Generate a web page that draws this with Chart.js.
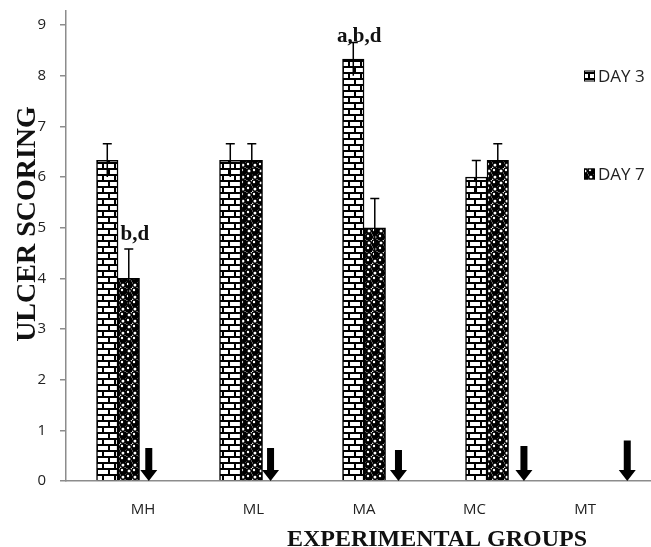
<!DOCTYPE html>
<html lang="en">
<head>
<meta charset="UTF-8">
<title>Ulcer scoring by experimental group</title>
<script src="https://cdn.jsdelivr.net/npm/chart.js"></script>
<style>
  html, body { margin: 0; padding: 0; background: #fff; }
</style>
</head>
<body>
<canvas id="ulcerChart" width="651" height="547"></canvas>
<script>
// values
const groups = ['MH', 'ML', 'MA', 'MC', 'MT'];
const day3 = [6.33, 6.33, 8.33, 6.0, 0];
const day7 = [4.0, 6.33, 5.0, 6.33, 0];
const day3Err = [0.33, 0.33, 0.33, 0.33, 0];
const day7Err = [0.58, 0.33, 0.58, 0.33, 0];
const yTicks = [0, 1, 2, 3, 4, 5, 6, 7, 8, 9];

// significance letters: group index, series (0 = day 3, 1 = day 7), text baseline in score units
const sigGroup = [0, 2];
const sigSeries = [1, 0];
const sigText = ['b,d', 'a,b,d'];
const sigLevel = [4.76, 8.66];

// the "no ulcer" arrows: height in score units, shift from the bar pair in group units
const arrowTop = [0.65, 0.65, 0.61, 0.69, 0.8];
const arrowShift = [0.25, 0.24, 0.28, 0.30, 0.14];

const sans = '"Open Sans", "Liberation Sans", sans-serif';
const serif = '"Liberation Serif", "DejaVu Serif", serif';
const axisGrey = '#8c8c8c';

function brickPattern() {
    const c = document.createElement('canvas');
    c.width = 12; c.height = 12;
    const g = c.getContext('2d');
    g.fillStyle = '#fff';
    g.fillRect(0, 0, 12, 12);
    g.fillStyle = '#000';
    g.fillRect(0, 0, 12, 2);
    g.fillRect(0, 6, 12, 2);
    g.fillRect(0, 2, 2, 4);
    g.fillRect(6, 8, 2, 4);
    return g.createPattern(c, 'repeat');
}

function spherePattern() {
    const c = document.createElement('canvas');
    c.width = 12; c.height = 12;
    const g = c.getContext('2d');
    g.fillStyle = '#fff';
    g.fillRect(0, 0, 12, 12);
    [[3, 3], [9, 9]].forEach(([cx, cy]) => {
        g.fillStyle = '#000';
        g.beginPath(); g.arc(cx, cy, 4.4, 0, Math.PI * 2); g.fill();
        g.fillStyle = '#fff';
        g.beginPath(); g.arc(cx - 1, cy - 1, 1.2, 0, Math.PI * 2); g.fill();
    });
    [[9, 3], [3, 9]].forEach(([cx, cy]) => {
        g.strokeStyle = '#000';
        g.lineWidth = 1.6;
        g.beginPath(); g.arc(cx, cy, 2.3, 0, Math.PI * 2); g.stroke();
    });
    return g.createPattern(c, 'repeat');
}

const brick = brickPattern();
const sphere = spherePattern();

// keep the scales from pushing the plot area in for their own labels
function noLabelPadding(s) {
    s.paddingLeft = 0;
    s.paddingRight = 0;
    s.paddingTop = 0;
    s.paddingBottom = 0;
}

const extras = {
    id: 'extras',
    afterDatasetsDraw(chart) {
        const g = chart.ctx;
        const y = chart.scales.y;
        const xb = chart.scales.xb;
        const vals = [day3, day7];
        const errs = [day3Err, day7Err];

        g.save();
        // error bars
        g.strokeStyle = '#000';
        g.lineWidth = 1.5;
        for (let d = 0; d < 2; d++) {
            chart.getDatasetMeta(d).data.forEach((bar, i) => {
                if (!errs[d][i]) return;
                const top = y.getPixelForValue(vals[d][i] + errs[d][i]);
                const bot = y.getPixelForValue(vals[d][i] - errs[d][i]);
                g.beginPath();
                g.moveTo(bar.x, bot);
                g.lineTo(bar.x, top);
                g.moveTo(bar.x - 4.5, top);
                g.lineTo(bar.x + 4.5, top);
                g.stroke();
            });
        }

        // significance letters
        g.fillStyle = '#111';
        g.font = 'bold 21px ' + serif;
        g.textAlign = 'center';
        g.textBaseline = 'alphabetic';
        sigText.forEach((t, k) => {
            const bar = chart.getDatasetMeta(sigSeries[k]).data[sigGroup[k]];
            g.fillText(t, bar.x + 6, y.getPixelForValue(sigLevel[k]));
        });

        // arrows
        g.fillStyle = '#000';
        groups.forEach((grp, i) => {
            const x = xb.getPixelForValue(i + arrowShift[i]);
            const top = y.getPixelForValue(arrowTop[i]);
            const tip = y.getPixelForValue(0);
            g.beginPath();
            g.moveTo(x - 3.5, top);
            g.lineTo(x + 3.5, top);
            g.lineTo(x + 3.5, tip - 11);
            g.lineTo(x + 8.5, tip - 11);
            g.lineTo(x, tip);
            g.lineTo(x - 8.5, tip - 11);
            g.lineTo(x - 3.5, tip - 11);
            g.closePath();
            g.fill();
        });

        // legend
        const legendY = [76, 174];
        const legendFill = [brick, sphere];
        const names = chart.data.datasets.map(ds => ds.label);
        g.textAlign = 'left';
        g.textBaseline = 'middle';
        g.font = '17px ' + sans;
        names.forEach((n, k) => {
            g.fillStyle = legendFill[k];
            g.fillRect(584, legendY[k] - 5.5, 11, 11);
            g.strokeStyle = '#000';
            g.lineWidth = 1;
            g.strokeRect(584.5, legendY[k] - 5, 10, 10);
            g.fillStyle = '#222';
            g.fillText(n, 598, legendY[k] + 1);
        });

        // axis titles
        g.fillStyle = '#111';
        g.font = 'bold 24px ' + serif;
        g.textAlign = 'center';
        g.textBaseline = 'alphabetic';
        g.fillText('EXPERIMENTAL GROUPS', 437, 546);

        g.translate(35, 224);
        g.rotate(-Math.PI / 2);
        g.font = 'bold 28px ' + serif;
        g.fillText('ULCER SCORING', 0, 0);
        g.restore();
    }
};

// zero-score bars (MT) are left empty, as in the figure
const fillIfScored = fill => ctx => (ctx.raw && ctx.raw.y ? fill : 'rgba(0,0,0,0)');

new Chart(document.getElementById('ulcerChart').getContext('2d'), {
    type: 'bar',
    data: {
        labels: groups,
        datasets: [
            {
                label: 'DAY 3',
                data: day3.map((v, i) => ({ x: i, y: v })),
                xAxisID: 'xb',
                backgroundColor: fillIfScored(brick),
                borderColor: '#000',
                borderWidth: ctx => (ctx.raw && ctx.raw.y ? 1.5 : 0),
                barThickness: 21.5
            },
            {
                label: 'DAY 7',
                data: day7.map((v, i) => ({ x: i, y: v })),
                xAxisID: 'xb',
                backgroundColor: fillIfScored(sphere),
                borderColor: '#000',
                borderWidth: ctx => (ctx.raw && ctx.raw.y ? 1.5 : 0),
                barThickness: 21.5
            }
        ]
    },
    options: {
        responsive: false,
        animation: false,
        devicePixelRatio: 1,
        layout: { autoPadding: false, padding: { top: 11, left: 0, right: 0, bottom: 0 } },
        plugins: {
            legend: { display: false },
            tooltip: { enabled: false }
        },
        scales: {
            x: {
                type: 'linear',
                position: 'bottom',
                offset: false,
                min: -0.697,
                max: 4.597,
                afterBuildTicks: s => { s.ticks = groups.map((g, i) => ({ value: i })); },
                afterFit: s => { s.height = 66; noLabelPadding(s); },
                grid: { display: false },
                border: { display: true, color: axisGrey, width: 1.5 },
                ticks: {
                    callback: v => groups[v],
                    color: '#222',
                    font: { family: sans, size: 15 },
                    padding: 12,
                    maxRotation: 0
                }
            },
            xb: {
                type: 'linear',
                display: false,
                offset: false,
                min: -0.423,
                max: 4.333,
                afterFit: noLabelPadding
            },
            y: {
                min: 0,
                max: 9.28,
                afterBuildTicks: s => { s.ticks = yTicks.map(v => ({ value: v })); },
                afterFit: s => { s.width = 66; noLabelPadding(s); },
                grid: {
                    drawOnChartArea: false,
                    drawTicks: true,
                    tickLength: 6,
                    color: axisGrey,
                    lineWidth: 1.5
                },
                border: { color: axisGrey, width: 1.5 },
                ticks: {
                    color: '#222',
                    font: { family: sans, size: 15 },
                    padding: 14
                }
            }
        }
    },
    plugins: [extras]
});
</script>
</body>
</html>
